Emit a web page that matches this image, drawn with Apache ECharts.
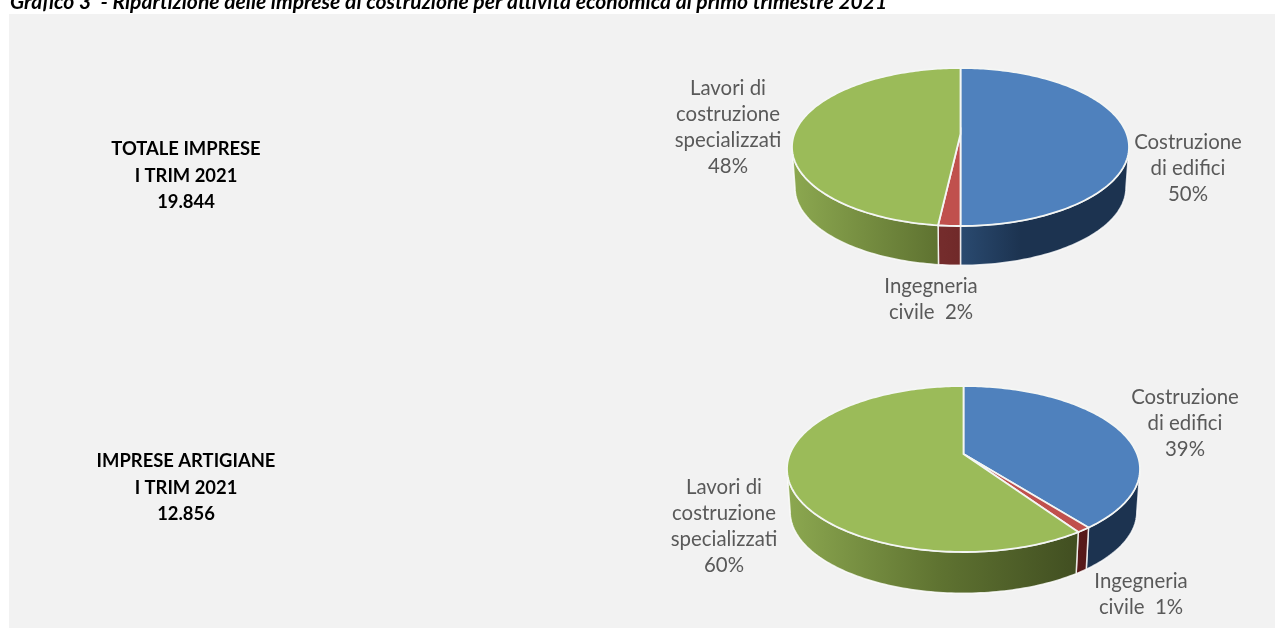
<!DOCTYPE html>
<html>
<head>
<meta charset="utf-8">
<style>
    html, body { margin: 0; padding: 0; background: #fff; }
    #chart { width: 1275px; height: 628px; }
</style>
<script src="https://cdn.jsdelivr.net/npm/echarts@6/dist/echarts.min.js"></script>
</head>
<body>
<div id="chart"></div>
<script>
    var chartTitle = 'Grafico 3  - Ripartizione delle imprese di costruzione per attività economica al primo trimestre 2021';
    var categoryLabels = ['Costruzione\ndi edifici\n', 'Ingegneria\ncivile  ', 'Lavori di\ncostruzione\nspecializzati\n'];
    // labelled 50/2/48 and 39/1/60, decimals estimated from the slice edges
    var totaleValues = [50, 1.8, 48.2];
    var artigianeValues = [39.4, 1.1, 59.5];
    var totaleHeading = 'TOTALE IMPRESE\nI TRIM 2021\n19.844';
    var artigianeHeading = 'IMPRESE ARTIGIANE\nI TRIM 2021\n12.856';

    var pieValues = [totaleValues, artigianeValues];
    // top = top of disc, hub = where the slices meet, bottom = front of disc (Excel style perspective)
    var pieLayout = [
        {cx: 960.5, rx: 168.5, top: 68, hub: 134, bottom: 226, depth: 41,
            labels: [[1188, 168], [931, 299.5], [728, 127.5]]},
        {cx: 963.5, rx: 176.5, top: 386, hub: 454, bottom: 552, depth: 43,
            labels: [[1185, 423], [1141, 594], [724, 526.5]]}
    ];
    var topColors = ['#4f81bd', '#c0504d', '#9bbb59'];
    var sideStops = [
        [[0, '#2e5078'], [0.5, '#2a4a70'], [0.68, '#1c3350'], [1, '#1c3350']],
        [[0, '#7c3030'], [0.45, '#742c2c'], [0.85, '#561818'], [1, '#561818']],
        [[0, '#8ca850'], [0.43, '#5f7331'], [0.85, '#3f4c20'], [1, '#3f4c20']]
    ];

    // homography of the unit circle, angle runs clockwise from 12 o'clock
    function projector(p, shift, shrink) {
        var above = p.hub - p.top, below = p.bottom - p.hub;
        var k = (below - above) / (below + above);
        var b = above * (1 + k);
        var a = p.rx * Math.sqrt(1 - k * k) * shrink;
        return {
            k: k,
            at: function (t) {
                var w = 1 + k * Math.cos(t);
                return [p.cx + a * Math.sin(t) / w, p.hub + shift - b * Math.cos(t) * shrink / w];
            }
        };
    }

    function arcPoints(proj, a0, a1) {
        var n = Math.max(2, Math.ceil((a1 - a0) / 0.02));
        var pts = [];
        for (var i = 0; i <= n; i++) {
            pts.push(proj.at(a0 + (a1 - a0) * i / n));
        }
        return pts;
    }

    function renderPie(params, api) {
        var idx = api.value(0);
        var values = pieValues[idx];
        var p = pieLayout[idx];
        var total = values.reduce(function (s, v) { return s + v; }, 0);
        var upper = projector(p, 0, 1);
        var lower = projector(p, p.depth, 0.982);
        var hub = [p.cx, p.hub];
        var visFrom = Math.acos(-upper.k);
        var visTo = 2 * Math.PI - visFrom;
        var walls = [], tops = [], texts = [];
        var start = 0;

        values.forEach(function (v, i) {
            var end = start + v / total * 2 * Math.PI;
            var a0 = Math.max(start, visFrom), a1 = Math.min(end, visTo);
            if (a1 > a0) {
                walls.push({
                    type: 'polygon',
                    shape: {points: arcPoints(upper, a0, a1).concat(arcPoints(lower, a0, a1).reverse())},
                    style: {
                        fill: new echarts.graphic.LinearGradient(p.cx - p.rx, 0, p.cx + p.rx, 0,
                            sideStops[i].map(function (s) { return {offset: s[0], color: s[1]}; }), true),
                        stroke: 'rgba(255,255,255,0.8)',
                        lineWidth: 1.5
                    }
                });
            }
            tops.push({
                type: 'polygon',
                shape: {points: [hub].concat(arcPoints(upper, start, end))},
                style: {fill: topColors[i], stroke: '#f4f6f4', lineWidth: 1.8}
            });
            texts.push({
                type: 'text',
                style: {
                    x: p.labels[i][0],
                    y: p.labels[i][1],
                    text: categoryLabels[i] + Math.round(v) + '%',
                    fill: '#595959',
                    font: '20.4px Lato',
                    lineHeight: 26,
                    align: 'center',
                    verticalAlign: 'middle'
                }
            });
            start = end;
        });
        return {type: 'group', children: walls.concat(tops, texts)};
    }

    var chart = echarts.init(document.getElementById('chart'));
    chart.setOption({
        animation: false,
        backgroundColor: '#fff',
        graphic: [
            {type: 'rect', z: -10, shape: {x: 9, y: 14, width: 1266, height: 614}, style: {fill: '#f2f2f2'}},
            {type: 'text', z: -20, style: {x: 10, y: 2, text: chartTitle, fill: '#000', font: 'italic bold 21.1px Lato', verticalAlign: 'middle'}},
            {type: 'text', z: 5, style: {x: 186, y: 176, text: totaleHeading, fill: '#000', font: 'bold 18.4px Lato', lineHeight: 26.5, align: 'center', verticalAlign: 'middle'}},
            {type: 'text', z: 5, style: {x: 186, y: 488, text: artigianeHeading, fill: '#000', font: 'bold 18.4px Lato', lineHeight: 26.5, align: 'center', verticalAlign: 'middle'}}
        ],
        series: [{
            type: 'custom',
            coordinateSystem: 'none',
            renderItem: renderPie,
            data: [[0], [1]]
        }]
    });
</script>
</body>
</html>
